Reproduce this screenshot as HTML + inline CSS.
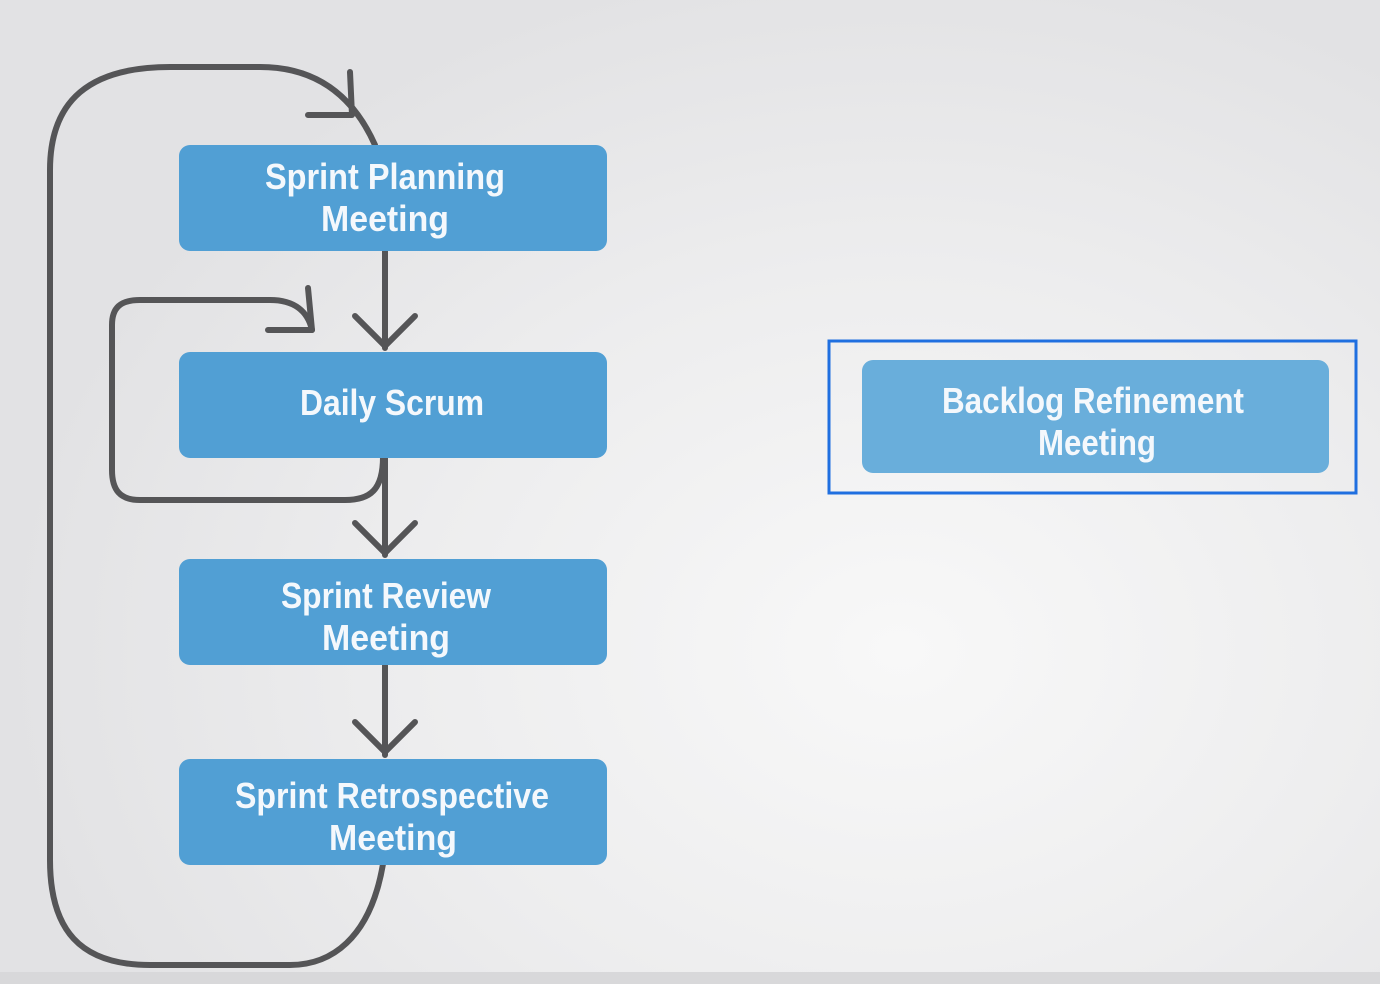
<!DOCTYPE html>
<html><head><meta charset="utf-8"><style>
html,body{margin:0;padding:0;width:1380px;height:984px;overflow:hidden;}
body{background:radial-gradient(ellipse 900px 700px at 900px 650px,#f8f8f8 0%,#ededee 55%,#e2e2e4 100%);}
svg{position:absolute;left:0;top:0}
text{font-family:"Liberation Sans Narrow","Liberation Sans",sans-serif;font-weight:bold;fill:#f4f8fc;font-size:36px;text-anchor:middle}
</style></head><body>
<svg width="1380" height="984" viewBox="0 0 1380 984">
<rect x="0" y="972" width="1380" height="12" fill="#d8d8da"/>
<g fill="none" stroke="#555557" stroke-width="6" stroke-linecap="round" stroke-linejoin="round">
<path d="M383 864 C370 940 330 965 290 965 L150 965 C80 965 50 930 50 860 L50 170 C50 100 90 67 170 67 L260 67 C320 67 355 100 375 145"/>
<path d="M308 115 L352 115 L350 72"/>
<path d="M383 457 C383 490 370 500 345 500 L140 500 C120 500 112 490 112 470 L112 325 C112 308 120 300 140 300 L270 300 C295 300 308 312 312 330"/>
<path d="M268 330 L312 330 L308 288"/>
<path d="M385 250 L385 348 M355 316 L385 346 L415 316"/>
<path d="M385 457 L385 555 M355 523 L385 553 L415 523"/>
<path d="M385 665 L385 755 M355 722 L385 752 L415 722"/>
</g>
<g fill="#519fd4">
<rect x="179" y="145" width="428" height="106" rx="11"/>
<rect x="179" y="352" width="428" height="106" rx="11"/>
<rect x="179" y="559" width="428" height="106" rx="11"/>
<rect x="179" y="759" width="428" height="106" rx="11"/>
</g>
<rect x="829" y="341" width="527" height="152" fill="none" stroke="#1f6fe0" stroke-width="3"/>
<rect x="862" y="360" width="467" height="113" rx="11" fill="#69aedb"/>
<text x="385" y="189" textLength="240" lengthAdjust="spacingAndGlyphs">Sprint Planning</text>
<text x="385" y="231" textLength="128" lengthAdjust="spacingAndGlyphs">Meeting</text>
<text x="392" y="415" textLength="184" lengthAdjust="spacingAndGlyphs">Daily Scrum</text>
<text x="386" y="608" textLength="210" lengthAdjust="spacingAndGlyphs">Sprint Review</text>
<text x="386" y="650" textLength="128" lengthAdjust="spacingAndGlyphs">Meeting</text>
<text x="392" y="808" textLength="314" lengthAdjust="spacingAndGlyphs">Sprint Retrospective</text>
<text x="393" y="850" textLength="128" lengthAdjust="spacingAndGlyphs">Meeting</text>
<text x="1093" y="413" textLength="302" lengthAdjust="spacingAndGlyphs">Backlog Refinement</text>
<text x="1097" y="455" textLength="118" lengthAdjust="spacingAndGlyphs">Meeting</text>
</svg>
</body></html>
